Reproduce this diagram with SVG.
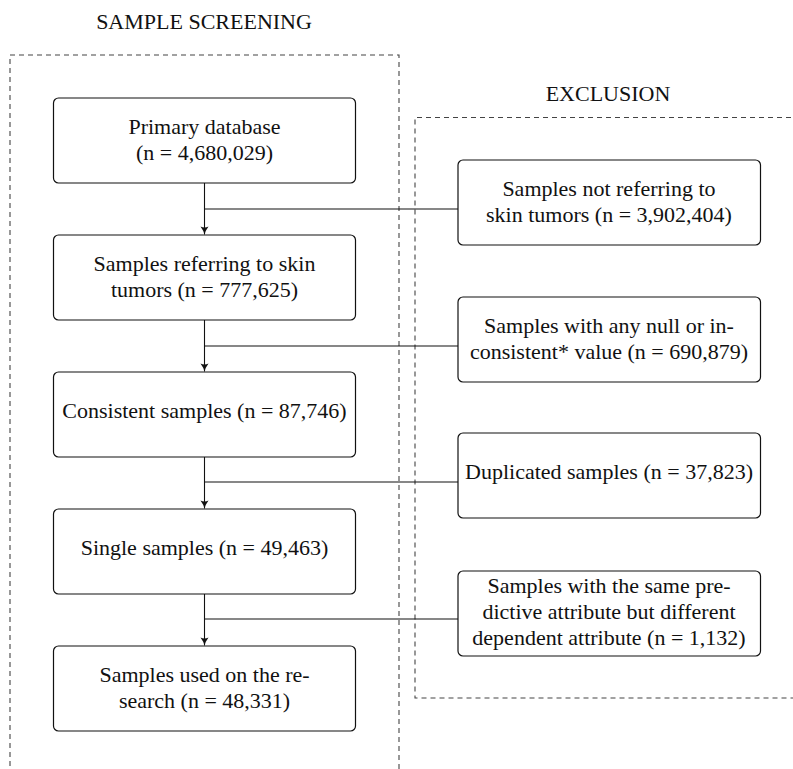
<svg xmlns="http://www.w3.org/2000/svg" width="793" height="769" viewBox="0 0 793 769">
<style>
text{font-family:"Liberation Serif","Times New Roman",serif;font-size:22px;fill:#111;text-anchor:middle}
.node{fill:#fff;stroke:#111;stroke-width:1.2}
.frame{fill:none;stroke:#444;stroke-width:1.1;stroke-dasharray:5 4}
.conn{fill:none;stroke:#111;stroke-width:1.1}
</style>
<defs>
<marker id="arr" viewBox="-9 -5 10 10" refX="0" refY="0" markerWidth="10" markerHeight="10" markerUnits="userSpaceOnUse" orient="auto">
<path d="M-8,-4 Q-4,-1 0,0 Q-4,1 -8,4 Q-6,0 -8,-4 Z" fill="#111"/>
</marker>
</defs>
<rect width="793" height="769" fill="#fff"/>
<g id="frames">
<path class="frame" d="M10,775 V55 H399 V775"/>
<path class="frame" d="M800,117.5 H415 V698 H800"/>
<text x="204" y="29">SAMPLE SCREENING</text>
<text x="608" y="101">EXCLUSION</text>
</g>
<g id="connectors">
<line class="conn" x1="204.5" y1="183" x2="204.5" y2="234.5" marker-end="url(#arr)"/>
<line class="conn" x1="204.5" y1="320" x2="204.5" y2="371.5" marker-end="url(#arr)"/>
<line class="conn" x1="204.5" y1="457" x2="204.5" y2="508.5" marker-end="url(#arr)"/>
<line class="conn" x1="204.5" y1="594" x2="204.5" y2="645.5" marker-end="url(#arr)"/>
<line class="conn" x1="204.5" y1="209" x2="458" y2="209"/>
<line class="conn" x1="204.5" y1="346" x2="458" y2="346"/>
<line class="conn" x1="204.5" y1="482" x2="458" y2="482"/>
<line class="conn" x1="204.5" y1="619" x2="458" y2="619"/>
</g>
<g id="primary">
<rect class="node" x="53.5" y="98" width="302" height="85" rx="5"/>
<text x="204.5" y="133.5">Primary database</text>
<text x="204.5" y="159.5">(n = 4,680,029)</text>
</g>
<g id="skin">
<rect class="node" x="53.5" y="235" width="302" height="85" rx="5"/>
<text x="204.5" y="270.5">Samples referring to skin</text>
<text x="204.5" y="296.5">tumors (n = 777,625)</text>
</g>
<g id="consistent">
<rect class="node" x="53.5" y="372" width="302" height="85" rx="5"/>
<text x="204.5" y="418">Consistent samples (n = 87,746)</text>
</g>
<g id="single">
<rect class="node" x="53.5" y="509" width="302" height="85" rx="5"/>
<text x="204.5" y="555">Single samples (n = 49,463)</text>
</g>
<g id="used">
<rect class="node" x="53.5" y="646" width="302" height="85" rx="5"/>
<text x="204.5" y="681.5">Samples used on the re-</text>
<text x="204.5" y="707.5">search (n = 48,331)</text>
</g>
<g id="ex-notskin">
<rect class="node" x="458" y="160" width="302.5" height="85" rx="5"/>
<text x="609" y="195.5">Samples not referring to</text>
<text x="609" y="221.5">skin tumors (n = 3,902,404)</text>
</g>
<g id="ex-null">
<rect class="node" x="458" y="297" width="302.5" height="85" rx="5"/>
<text x="609" y="332.5">Samples with any null or in-</text>
<text x="609" y="358.5">consistent* value (n = 690,879)</text>
</g>
<g id="ex-dup">
<rect class="node" x="458" y="433" width="302.5" height="85" rx="5"/>
<text x="609" y="479">Duplicated samples (n = 37,823)</text>
</g>
<g id="ex-conflict">
<rect class="node" x="458" y="571" width="302.5" height="85" rx="5"/>
<text x="609" y="593">Samples with the same pre-</text>
<text x="609" y="619">dictive attribute but different</text>
<text x="609" y="645">dependent attribute (n = 1,132)</text>
</g>
</svg>
